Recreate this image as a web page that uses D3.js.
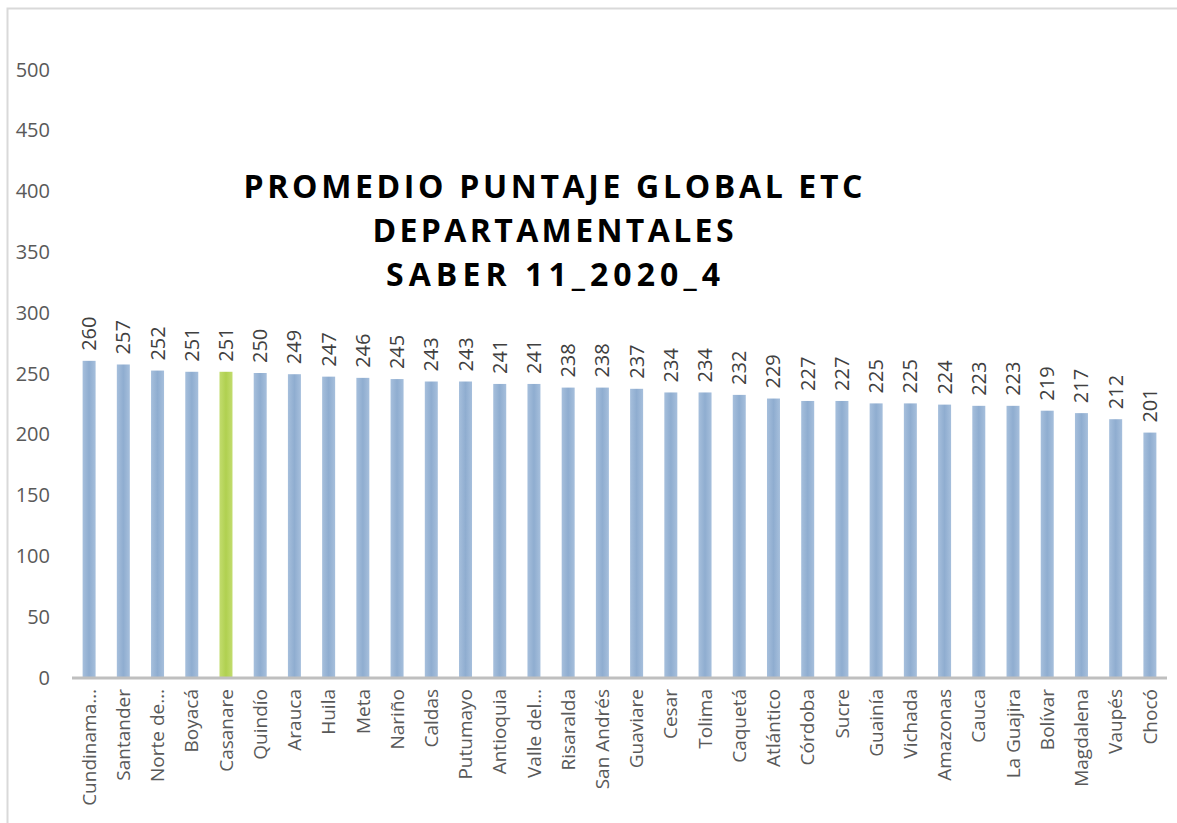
<!DOCTYPE html>
<html>
<head>
<meta charset="utf-8">
<script src="https://cdn.jsdelivr.net/npm/d3@7"></script>
<style>
  body { margin: 0; background: #fff; }
  svg { display: block; font-family: "Open Sans", sans-serif; }
</style>
</head>
<body>
<div id="chart"></div>
<script>
// departamentos, en el orden del grafico
const departamentos = ["Cundinama…", "Santander", "Norte de…", "Boyacá", "Casanare", "Quindío",
    "Arauca", "Huila", "Meta", "Nariño", "Caldas", "Putumayo", "Antioquia", "Valle del…",
    "Risaralda", "San Andrés", "Guaviare", "Cesar", "Tolima", "Caquetá", "Atlántico",
    "Córdoba", "Sucre", "Guainía", "Vichada", "Amazonas", "Cauca", "La Guajira", "Bolívar",
    "Magdalena", "Vaupés", "Chocó"];
const puntajes = [260, 257, 252, 251, 251, 250, 249, 247, 246, 245, 243, 243, 241, 241,
    238, 238, 237, 234, 234, 232, 229, 227, 227, 225, 225, 224, 223, 223, 219, 217, 212, 201];
const resaltado = "Casanare";
const yTicks = [0, 50, 100, 150, 200, 250, 300, 350, 400, 450, 500];
const titulo = ["PROMEDIO PUNTAJE GLOBAL ETC", "DEPARTAMENTALES", "SABER 11_2020_4"];
const anchoTitulo = [619, 361, 334];

const width = 1177,
    height = 823;

const svg = d3.select("#chart").append("svg")
    .attr("width", width)
    .attr("height", height);

const defs = svg.append("defs");
function grad(id, edge, mid) {
    const g = defs.append("linearGradient").attr("id", id)
        .attr("x1", "0").attr("x2", "1").attr("y1", "0").attr("y2", "0");
    g.append("stop").attr("offset", "0%").attr("stop-color", edge);
    g.append("stop").attr("offset", "50%").attr("stop-color", mid);
    g.append("stop").attr("offset", "100%").attr("stop-color", edge);
}
grad("gBlue", "#a6bfdc", "#8fadd0");
grad("gGreen", "#c2dc6e", "#b0d050");

// marco
svg.append("path")
    .attr("d", `M7.5,${height + 5} V8.5 H${width + 5}`)
    .attr("fill", "none")
    .attr("stroke", "#d9d9d9")
    .attr("stroke-width", 2);

const x = d3.scaleBand()
    .domain(departamentos)
    .range([72, 1167])
    .paddingInner(0.62)
    .paddingOuter(0.31);

const y = d3.scaleLinear()
    .domain([0, 500])
    .range([677, 69]);

// eje y (solo etiquetas)
const yAxis = svg.append("g")
    .attr("transform", "translate(50,0)")
    .call(d3.axisLeft(y).tickValues(yTicks).tickSize(0).tickPadding(0));
yAxis.select(".domain").remove();
yAxis.selectAll("text")
    .attr("fill", "#595959")
    .attr("font-family", "Open Sans")
    .attr("font-size", 20)
    .attr("dy", "0.35em");

// barras
svg.append("g").selectAll("rect")
    .data(puntajes)
    .join("rect")
    .attr("x", (d, i) => x(departamentos[i]))
    .attr("y", (d) => y(d))
    .attr("width", x.bandwidth())
    .attr("height", (d) => y(0) - y(d))
    .attr("fill", (d, i) => departamentos[i] === resaltado ? "url(#gGreen)" : "url(#gBlue)");

// eje x
const xAxis = svg.append("g")
    .attr("transform", `translate(0,${y(0)})`)
    .call(d3.axisBottom(x).tickSize(0).tickPadding(0));
xAxis.select(".domain")
    .attr("stroke", "#bfbfbf")
    .attr("stroke-width", 3)
    .attr("d", `M${x.range()[0]},1V1H${x.range()[1]}`);
xAxis.selectAll("text")
    .attr("fill", "#595959")
    .attr("font-family", "Open Sans")
    .attr("font-size", 19)
    .attr("text-anchor", "end")
    .attr("transform", "translate(0,12) rotate(-90)")
    .attr("x", 0)
    .attr("y", 0)
    .attr("dy", "0.35em");

// etiquetas de valor
svg.append("g").selectAll("text")
    .data(puntajes)
    .join("text")
    .attr("transform", (d, i) => `translate(${x(departamentos[i]) + x.bandwidth() / 2},${y(d) - 10}) rotate(-90)`)
    .attr("dy", "0.35em")
    .attr("fill", "#404040")
    .attr("font-size", 20)
    .text((d) => d);

// titulo
svg.append("g").selectAll("text")
    .data(titulo)
    .join("text")
    .attr("x", 553)
    .attr("y", (d, i) => 198 + i * 44)
    .attr("text-anchor", "middle")
    .attr("font-size", 32)
    .attr("font-weight", "bold")
    .attr("textLength", (d, i) => anchoTitulo[i])
    .attr("lengthAdjust", "spacing")
    .attr("fill", "#000")
    .text((d) => d);
</script>
</body>
</html>
